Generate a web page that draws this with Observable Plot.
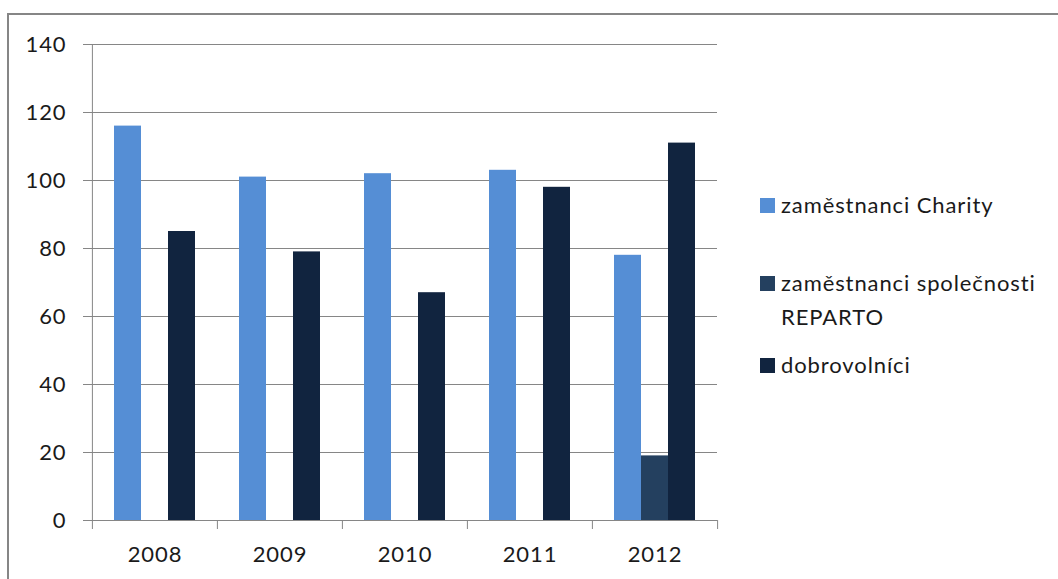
<!DOCTYPE html>
<html>
<head>
<meta charset="utf-8">
<script src="https://cdn.jsdelivr.net/npm/d3@7"></script>
<script src="https://cdn.jsdelivr.net/npm/@observablehq/plot@0.6"></script>
<style>
  html, body { margin: 0; padding: 0; background: #fff; }
  #wrap { position: relative; width: 1058px; height: 579px; overflow: hidden; font-family: Lato, "Open Sans", sans-serif; }
  #frame { position: absolute; left: 7px; top: 13px; width: 1200px; height: 700px; border-top: 2px solid #868686; border-left: 2px solid #868686; }
  #chart { position: absolute; left: 0; top: 0; }
  .leg { position: absolute; left: 760px; font-size: 22px; letter-spacing: 0.9px; color: #1a1a1a; line-height: 34px; }
  .sw { position: absolute; left: 0; width: 15px; height: 15px; }
  .lt { position: absolute; left: 21px; white-space: nowrap; }
</style>
</head>
<body>
<div id="wrap">
  <div id="frame"></div>
  <div id="chart"></div>
  <div id="legend"></div>
</div>
<script>
const years = ["2008", "2009", "2010", "2011", "2012"];
const seriesNames = ["zaměstnanci Charity", "zaměstnanci společnosti REPARTO", "dobrovolníci"];
const charity = [116, 101, 102, 103, 78];
const reparto = [0, 0, 0, 0, 19];
const volunteers = [85, 79, 67, 98, 111];
const colors = ["#558ED5", "#24405F", "#11243F"];
const yTicks = [0, 20, 40, 60, 80, 100, 120, 140];

const table = [];
years.forEach((yr, i) => {
  table.push({year: yr, series: seriesNames[0], value: charity[i]});
  table.push({year: yr, series: seriesNames[1], value: reparto[i]});
  table.push({year: yr, series: seriesNames[2], value: volunteers[i]});
});

const gridColor = "#868686";
const halfBand = (1058 - 341 - 91) / years.length / 2;
const plotHeight = 579 - 44 - 59;

const chart = Plot.plot({
  width: 1058,
  height: 579,
  marginLeft: 91,
  marginRight: 341,
  marginTop: 44,
  marginBottom: 59,
  style: {fontFamily: "Lato, 'Open Sans', sans-serif", fontSize: "22px", letterSpacing: "0.9px", color: "#1a1a1a", background: "transparent"},
  fx: {domain: years, padding: 0, label: null},
  x: {domain: seriesNames, paddingInner: 0, paddingOuter: 0.735, axis: null},
  y: {domain: [0, 140], label: null},
  color: {domain: seriesNames, range: colors},
  marks: [
    Plot.gridY({ticks: yTicks, stroke: gridColor, strokeOpacity: 1}),
    Plot.barY(table, {fx: "year", x: "series", y: "value", fill: "series"}),
    Plot.axisY({ticks: yTicks, tickSize: 9, tickPadding: 17, stroke: gridColor, strokeOpacity: 1, label: null, fontSize: 22}),
    Plot.axisFx({anchor: "bottom", tickSize: 0, tickPadding: 26, label: null, fontSize: 22}),
    Plot.axisFx({anchor: "bottom", tickSize: 9, text: null, label: null, stroke: gridColor, strokeOpacity: 1, dx: -halfBand}),
    Plot.axisFx({anchor: "bottom", ticks: [years[years.length - 1]], tickSize: 9, text: null, label: null, stroke: gridColor, strokeOpacity: 1, dx: halfBand}),
    // vertical y-axis line along the left edge of the first category
    Plot.axisFx({anchor: "bottom", ticks: [years[0]], tickSize: -plotHeight, text: null, label: null, stroke: gridColor, strokeOpacity: 1, dx: -halfBand})
  ]
});
document.getElementById("chart").appendChild(chart);

// legend
const legend = document.getElementById("legend");
const legendRows = [
  {top: 188, lines: ["zaměstnanci Charity"]},
  {top: 266, lines: ["zaměstnanci společnosti", "REPARTO"]},
  {top: 348, lines: ["dobrovolníci"]}
];
legendRows.forEach((row, i) => {
  const item = document.createElement("div");
  item.className = "leg";
  item.style.top = row.top + "px";
  const sw = document.createElement("div");
  sw.className = "sw";
  sw.style.background = colors[i];
  sw.style.top = "10px";
  const t = document.createElement("div");
  t.className = "lt";
  t.innerHTML = row.lines.join("<br>");
  item.appendChild(sw);
  item.appendChild(t);
  legend.appendChild(item);
});
</script>
</body>
</html>
